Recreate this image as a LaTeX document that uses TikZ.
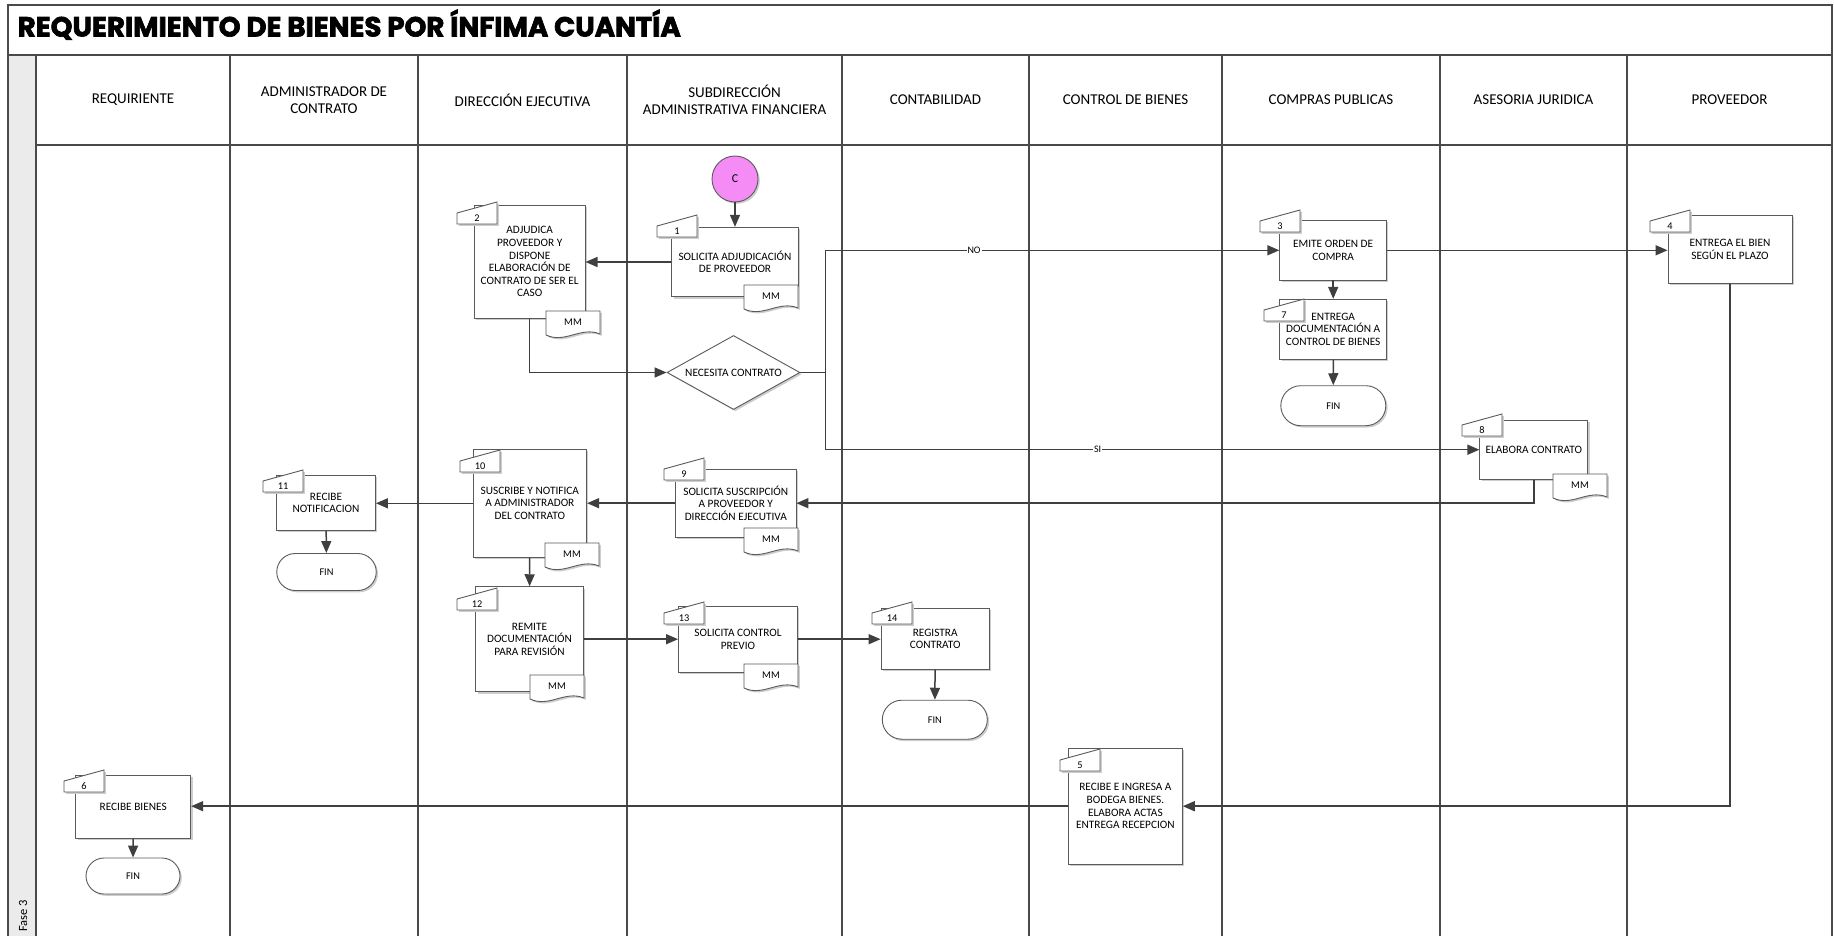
\documentclass[tikz,border=0pt]{standalone}
\usepackage{graphicx}
\usepackage{fontspec}
\setmainfont{Carlito}
\newfontfamily\titlefont{Poppins}[BoldFeatures={FakeBold=2.5}]
\usetikzlibrary{arrows.meta,shapes.geometric,shapes.misc,shadows,calc}

\definecolor{lanecol}{HTML}{4A4A4A}
\definecolor{edgecol}{HTML}{3F3F3F}
\definecolor{boxline}{HTML}{5A5A5A}
\definecolor{stripgray}{HTML}{EBEBEB}
\definecolor{startpink}{HTML}{F58CF5}
\definecolor{shadowgray}{HTML}{CDCDCD}

\tikzset{
  lane/.style={draw=lanecol, line width=1.3pt},
  shd/.style={drop shadow={shadow xshift=1.8pt, shadow yshift=-1.8pt, fill=shadowgray, opacity=1}},
  boxtext/.style={font=\fontsize{11.3}{12.6}\selectfont},
  smalltext/.style={font=\fontsize{10.3}{12}\selectfont},
  task/.style={rectangle, draw=boxline, line width=0.9pt, fill=white, shd, align=center, inner sep=2pt, boxtext},
  finbox/.style={rounded rectangle, draw=boxline, line width=0.9pt, fill=white, shd, inner sep=0pt, smalltext},
  decision/.style={diamond, aspect=1.8, draw=boxline, line width=0.9pt, fill=white, shd, inner sep=0pt, boxtext},
  startcirc/.style={circle, draw=boxline, line width=0.9pt, fill=startpink, shd, inner sep=0pt, font=\fontsize{12}{14}\selectfont},
  tabline/.style={draw=boxline, line width=0.9pt, fill=white, shd},
  docline/.style={draw=boxline, line width=0.9pt, fill=white, shd},
  numtext/.style={inner sep=0pt, smalltext},
  mmtext/.style={inner sep=0pt, smalltext},
  header/.style={align=center, inner sep=0pt, font=\fontsize{15}{16.7}\selectfont},
  conn/.style={draw=edgecol, line width=1.5pt},
  arr/.style={conn, -{Triangle[length=12pt,width=10pt]}},
  lbl/.style={fill=white, inner sep=1pt, font=\fontsize{10}{12}\selectfont},
}

% numbered tab on the top-left corner of a task: name, left x, bottom y, number
\newcommand\tabmark[4]{%
  \draw[tabline] (#2,#3) -- (#2,#3-11) -- (#2+40,#3-22) -- (#2+40,#3) -- cycle;
  \node[numtext] (#1) at (#2+20,#3-6) {#4};
}
% small "MM" document sheet: name, left x, top y
\newcommand\docmark[3]{%
  \draw[docline] (#2,#3) -- (#2+54,#3) -- (#2+54,#3+23)
    .. controls (#2+35,#3+15) and (#2+19,#3+33) .. (#2,#3+24) -- cycle;
  \node[mmtext] (#1) at (#2+27,#3+11) {MM};
}

\begin{document}
\begin{tikzpicture}[x=1pt, y=-1pt]
\useasboundingbox (0,0) rectangle (1834,936);

% ---------- frame, title and swimlanes ----------
\fill[stripgray] (8,55) rectangle (36,945);
\draw[lane] (8,945) -- (8,5) -- (1832,5) -- (1832,945);
\draw[lane] (8,55) -- (1832,55);
\draw[lane] (36,55) -- (36,945);
\draw[lane] (36,145) -- (1832,145);
\foreach \cx in {230,418,627,842,1029,1222,1440,1627}
  \draw[lane] (\cx,55) -- (\cx,945);

\node[anchor=base west, inner sep=0pt] (title) at (17.5,36.5)
  {\resizebox{663pt}{!}{\titlefont\bfseries REQUERIMIENTO DE BIENES POR ÍNFIMA CUANTÍA}};
\node[rotate=90, inner sep=0pt, font=\fontsize{12.5}{14}\selectfont] (fase) at (23,916) {Fase 3};

\node[header] (h1) at (133,100) {REQUIRIENTE};
\node[header] (h2) at (324,100) {ADMINISTRADOR DE\\CONTRATO};
\node[header] (h3) at (522.5,100) {DIRECCIÓN EJECUTIVA};
\node[header] (h4) at (734.5,100) {SUBDIRECCIÓN\\ADMINISTRATIVA FINANCIERA};
\node[header] (h5) at (935.5,100) {CONTABILIDAD};
\node[header] (h6) at (1125.5,100) {CONTROL DE BIENES};
\node[header] (h7) at (1331,100) {COMPRAS PUBLICAS};
\node[header] (h8) at (1533.5,100) {ASESORIA JURIDICA};
\node[header] (h9) at (1729.5,100) {PROVEEDOR};

% ---------- shapes ----------
\node[startcirc, minimum size=46pt] (c) at (735,179) {C};

\node[task, minimum width=126.6pt, minimum height=69.4pt] (b1) at (735,262) {SOLICITA ADJUDICACIÓN\\DE PROVEEDOR};
\docmark{m1}{744}{285}
\tabmark{t1}{657}{237}{1}

\node[task, minimum width=110.7pt, minimum height=113.3pt] (b2) at (529.7,261.7)
  {ADJUDICA\\PROVEEDOR Y\\DISPONE\\ELABORACIÓN DE\\CONTRATO DE SER EL\\CASO};
\docmark{m2}{546}{311}
\tabmark{t2}{457}{224}{2}

\node[decision, minimum width=133pt, minimum height=74pt] (d) at (733.5,372.5) {NECESITA CONTRATO};

\node[task, minimum width=106.8pt, minimum height=59.3pt] (b3) at (1333.2,250.3) {EMITE ORDEN DE\\COMPRA};
\tabmark{t3}{1260}{232}{3}

\node[task, minimum width=124pt, minimum height=68.3pt] (b4) at (1730,249.2) {ENTREGA EL BIEN\\SEGÚN EL PLAZO};
\tabmark{t4}{1650}{232}{4}

\node[task, minimum width=106.8pt, minimum height=60pt] (b7) at (1333.2,329.3) {ENTREGA\\DOCUMENTACIÓN A\\CONTROL DE BIENES};
\tabmark{t7}{1264}{321}{7}
\node[finbox, minimum width=105pt, minimum height=40pt] (f7) at (1333.3,405.7) {FIN};

\node[task, minimum width=107.9pt, minimum height=59.3pt] (b8) at (1533.8,449.7) {ELABORA CONTRATO};
\docmark{m8}{1553}{474}
\tabmark{t8}{1462}{436}{8}

\node[task, minimum width=120.3pt, minimum height=68.3pt] (b9) at (735.8,503.2) {SOLICITA SUSCRIPCIÓN\\A PROVEEDOR Y\\DIRECCIÓN EJECUTIVA};
\docmark{m9}{744}{528}
\tabmark{t9}{664}{480}{9}

\node[task, minimum width=113.7pt, minimum height=108pt] (b10) at (529.8,503.3) {SUSCRIBE Y NOTIFICA\\A ADMINISTRADOR\\DEL CONTRATO};
\docmark{m10}{545}{543}
\tabmark{t10}{460}{472}{10}

\node[task, minimum width=99pt, minimum height=55.7pt] (b11) at (326,502.8) {RECIBE\\NOTIFICACION};
\tabmark{t11}{263}{492}{11}
\node[finbox, minimum width=99.5pt, minimum height=37pt] (f11) at (326.5,572) {FIN};

\node[task, minimum width=107.5pt, minimum height=105pt] (b12) at (529.5,639.2) {REMITE\\DOCUMENTACIÓN\\PARA REVISIÓN};
\docmark{m12}{530}{675}
\tabmark{t12}{457}{610}{12}

\node[task, minimum width=119pt, minimum height=66.3pt] (b13) at (738,639.2) {SOLICITA CONTROL\\PREVIO};
\docmark{m13}{744}{664}
\tabmark{t13}{664}{624}{13}

\node[task, minimum width=108.3pt, minimum height=61pt] (b14) at (935.2,638.8) {REGISTRA\\CONTRATO};
\tabmark{t14}{872}{624}{14}
\node[finbox, minimum width=105pt, minimum height=39pt] (f14) at (934.8,719.7) {FIN};

\node[task, minimum width=113.8pt, minimum height=115.7pt] (b5) at (1125.4,806.2) {RECIBE E INGRESA A\\BODEGA BIENES.\\ELABORA ACTAS\\ENTREGA RECEPCION};
\tabmark{t5}{1060}{771}{5}

\node[task, minimum width=115pt, minimum height=63.7pt] (b6) at (133.2,806.8) {RECIBE BIENES};
\tabmark{t6}{64}{792}{6}
\node[finbox, minimum width=94pt, minimum height=36pt] (f6) at (133,876) {FIN};

% ---------- connectors ----------
\coordinate (jn) at (825.7,250.3);
\coordinate (js) at (825.7,449.7);

\draw[arr] (c) -- (b1);
\draw[arr] (b1.west) -- (b1.west -| b2.east);
\draw[arr] (b2.south) |- (d.west);
\draw[conn] (d.east) -- (d.east -| jn);
\draw[arr] (jn) -- node[lbl, pos=0.327] {NO} (b3.west);
\draw[arr] (jn) -- (js) -- node[lbl, pos=0.416] {SI} (b8.west);
\draw[arr] (b3.east) -- (b3.east -| b4.west);
\draw[arr] (b3) -- (b7);
\draw[arr] (b7) -- (f7);
\draw[arr] (b4.south) |- (b5.east);
\draw[arr] (b5.west) -- (b5.west -| b6.east);
\draw[arr] (b6) -- (f6);
\draw[arr] (b8.south) |- (b9.east);
\draw[arr] (b9.west) -- (b9.west -| b10.east);
\draw[arr] (b10.west) -- (b10.west -| b11.east);
\draw[arr] (b11) -- (f11);
\draw[arr] (b10) -- (b12);
\draw[arr] (b12.east) -- (b12.east -| b13.west);
\draw[arr] (b13.east) -- (b13.east -| b14.west);
\draw[arr] (b14) -- (f14);
\end{tikzpicture}
\end{document}
